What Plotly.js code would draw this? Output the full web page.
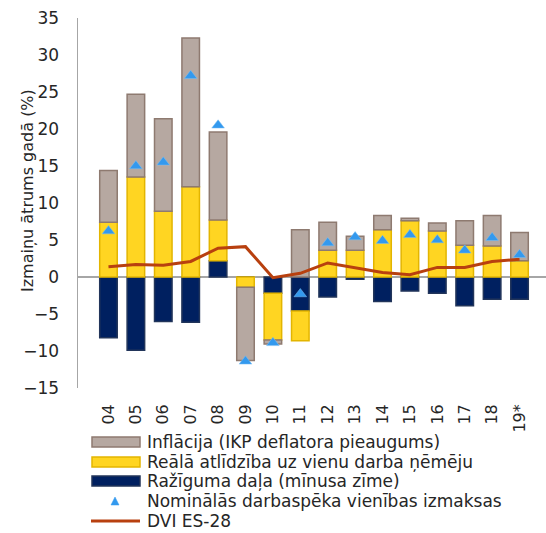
<!DOCTYPE html>
<html><head><meta charset="utf-8">
<script src="https://cdn.plot.ly/plotly-3.0.1.min.js"></script>
<style>html,body{margin:0;padding:0;overflow:hidden;background:#fff}</style>
</head><body><div id="chart"></div>
<script>
const years = ['04','05','06','07','08','09','10','11','12','13','14','15','16','17','18','19*'];
const productivity = [-8.2, -9.9, -6.0, -6.1, 2.2, 0.0, -2.2, -4.6, -2.7, -0.3, -3.3, -1.9, -2.2, -3.9, -3.0, -3.0];
const realComp = [7.4, 13.5, 8.9, 12.2, 5.5, -1.4, -6.3, -4.0, 3.6, 3.6, 6.4, 7.6, 6.2, 4.3, 4.2, 2.2];
const inflation = [7.0, 11.2, 12.5, 20.1, 11.9, -9.9, -0.55, 6.4, 3.8, 1.9, 1.9, 0.35, 1.1, 3.3, 4.1, 3.8];
const nominalULC = [6.2, 15.0, 15.5, 27.2, 20.5, -11.4, -8.9, -2.3, 4.6, 5.4, 4.9, 5.7, 5.0, 3.6, 5.3, 3.0];
const euULC = [1.4, 1.7, 1.6, 2.1, 3.9, 4.1, -0.1, 0.5, 1.9, 1.2, 0.6, 0.3, 1.3, 1.3, 2.1, 2.4];
const legendLabels = [
  'Inflācija (IKP deflatora pieaugums)',
  'Reālā atlīdzība uz vienu darba ņēmēju',
  'Ražīguma daļa (mīnusa zīme)',
  'Nominālās darbaspēka vienības izmaksas',
  'DVI ES-28'
];
const yTitle = 'Izmaiņu ātrums gadā (%)';

const C = {
  grey: '#b6a8a1', greyLine: '#8e7a70',
  yellow: '#ffd522', yellowLine: '#e3b500',
  navy: '#002060', navyLine: '#22355a',
  tri: '#3399ee', line: '#b8400f', axis: '#a6a6a6', text: '#262626'
};
const FONT = 'DejaVu Sans, Liberation Sans, Arial, sans-serif';

// pixel -> paper helpers (plot area 78..550 x 18..388)
const L = 78, R = 550, T = 18, B = 388;
const px = x => (x - L) / (R - L);
const py = y => (B - y) / (B - T);

const traces = [
  {type:'bar', x: years, y: productivity, name: legendLabels[2],
   marker:{color:C.navy, line:{color:C.navyLine, width:1.5}}, showlegend:false, hoverinfo:'skip'},
  {type:'bar', x: years, y: realComp, name: legendLabels[1],
   marker:{color:C.yellow, line:{color:C.yellowLine, width:1.5}}, showlegend:false, hoverinfo:'skip'},
  {type:'bar', x: years, y: inflation, name: legendLabels[0],
   marker:{color:C.grey, line:{color:C.greyLine, width:1.5}}, showlegend:false, hoverinfo:'skip'},
  {type:'scatter', mode:'lines', x: years, y: euULC, name: legendLabels[4],
   line:{color:C.line, width:3}, showlegend:false, hoverinfo:'skip'},
  {type:'scatter', mode:'markers', x: years, y: nominalULC, name: legendLabels[3],
   marker:{symbol:'triangle-up', size:11, color:C.tri, line:{color:'#7cc0f5', width:0.5}}, showlegend:false, hoverinfo:'skip'}
];

// custom legend
const legY = [442, 462, 481, 501, 521];
const shapes = [];
const annotations = [];
const rectFill = [[C.grey, C.greyLine],[C.yellow, C.yellowLine],[C.navy, C.navyLine]];
for (let i = 0; i < 3; i++) {
  shapes.push({type:'rect', xref:'paper', yref:'paper',
    x0:px(92), x1:px(140), y0:py(legY[i]-5), y1:py(legY[i]+5),
    fillcolor:rectFill[i][0], line:{color:rectFill[i][1], width:1.5}});
}
shapes.push({type:'path', xref:'paper', yref:'paper',
  path:`M ${px(111)},${py(legY[3]+4)} L ${px(119)},${py(legY[3]+4)} L ${px(115)},${py(legY[3]-4)} Z`,
  fillcolor:C.tri, line:{color:C.tri, width:0.5}});
shapes.push({type:'line', xref:'paper', yref:'paper',
  x0:px(91), x1:px(140), y0:py(legY[4]), y1:py(legY[4]), line:{color:C.line, width:3}});
legendLabels.forEach((t, i) => {
  annotations.push({xref:'paper', yref:'paper', x:px(145), y:py(legY[i]),
    xanchor:'left', yanchor:'middle', showarrow:false, text:t,
    font:{family:FONT, size:17, color:C.text}});
});
// y-axis title
annotations.push({xref:'paper', yref:'paper', x:px(27), y:py(191), xanchor:'center', yanchor:'middle',
  textangle:-90, showarrow:false, text:yTitle, font:{family:FONT, size:16, color:C.text}});

const layout = {
  width: 550, height: 533,
  margin:{l:L, r:0, t:T, b:533-B, pad:0},
  paper_bgcolor:'#fff', plot_bgcolor:'#fff',
  barmode:'relative', bargap:0.36,
  font:{family:FONT, size:16, color:C.text},
  xaxis:{type:'category', showline:false, showgrid:false, zeroline:false, ticks:'',
    tickangle:-90, ticklabelstandoff:12, tickfont:{family:FONT, size:16, color:C.text},
    automargin:false},
  yaxis:{range:[-15,35], dtick:5, showgrid:false, zeroline:true, zerolinecolor:C.axis, zerolinewidth:1.5,
    showline:true, linecolor:C.axis, linewidth:1.5, ticks:'', ticklabelstandoff:14,
    tickfont:{family:FONT, size:17, color:C.text}, automargin:false},
  shapes, annotations, showlegend:false
};
Plotly.newPlot('chart', traces, layout, {displayModeBar:false, staticPlot:true});
</script></body></html>
